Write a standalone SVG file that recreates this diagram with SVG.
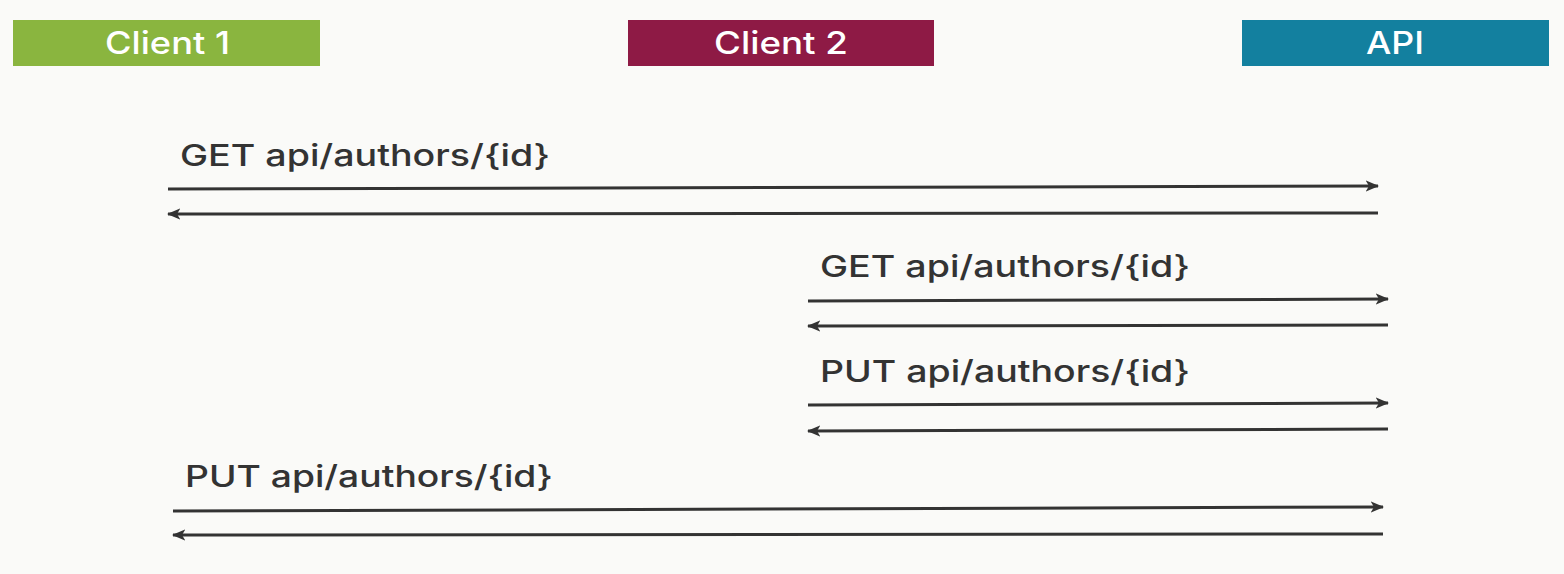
<svg xmlns="http://www.w3.org/2000/svg" width="1564" height="574" viewBox="0 0 1564 574">
<defs>
<marker id="ah" viewBox="0 0 12 10" refX="11" refY="5" markerWidth="4.5" markerHeight="3.8" orient="auto" markerUnits="strokeWidth">
<path d="M0,0 L12,5 L0,10 L3,5 Z" fill="#333"/>
</marker>
<style>
.hdr{font-family:Inter,"Open Sans","Liberation Sans",sans-serif;font-size:31px;font-weight:500;fill:#fff}
.lbl{font-family:Inter,"Open Sans","Liberation Sans",sans-serif;font-size:30px;font-weight:500;fill:#333}
.msg{stroke:#333;stroke-width:3;fill:none;marker-end:url(#ah)}
</style>
</defs>
<rect width="1564" height="574" fill="#fafaf8"/>
<g id="client1"><rect x="13" y="20" width="307" height="46" fill="#8ab53f"/><text class="hdr" x="105" y="54" textLength="125" lengthAdjust="spacingAndGlyphs">Client 1</text></g>
<g id="client2"><rect x="628" y="20" width="306" height="46" fill="#8e1a45"/><text class="hdr" x="714" y="54" textLength="134" lengthAdjust="spacingAndGlyphs">Client 2</text></g>
<g id="api"><rect x="1242" y="20" width="307" height="46" fill="#13809f"/><text class="hdr" x="1366" y="54" textLength="58" lengthAdjust="spacingAndGlyphs">API</text></g>
<g id="labels">
<text class="lbl" x="180" y="166" textLength="370" lengthAdjust="spacingAndGlyphs">GET api/authors/{id}</text>
<text class="lbl" x="820" y="277" textLength="370" lengthAdjust="spacingAndGlyphs">GET api/authors/{id}</text>
<text class="lbl" x="820" y="382" textLength="370" lengthAdjust="spacingAndGlyphs">PUT api/authors/{id}</text>
<text class="lbl" x="185" y="487" textLength="368" lengthAdjust="spacingAndGlyphs">PUT api/authors/{id}</text>
</g>
<g id="connectors">
<line class="msg" x1="168" y1="189" x2="1378" y2="186"/>
<line class="msg" x1="1378" y1="213" x2="168" y2="214"/>
<line class="msg" x1="808" y1="301" x2="1388" y2="299"/>
<line class="msg" x1="1388" y1="325" x2="808" y2="326"/>
<line class="msg" x1="808" y1="405" x2="1388" y2="403"/>
<line class="msg" x1="1388" y1="429" x2="808" y2="431"/>
<line class="msg" x1="173" y1="511" x2="1383" y2="507"/>
<line class="msg" x1="1383" y1="534" x2="173" y2="535"/>
</g>
</svg>
